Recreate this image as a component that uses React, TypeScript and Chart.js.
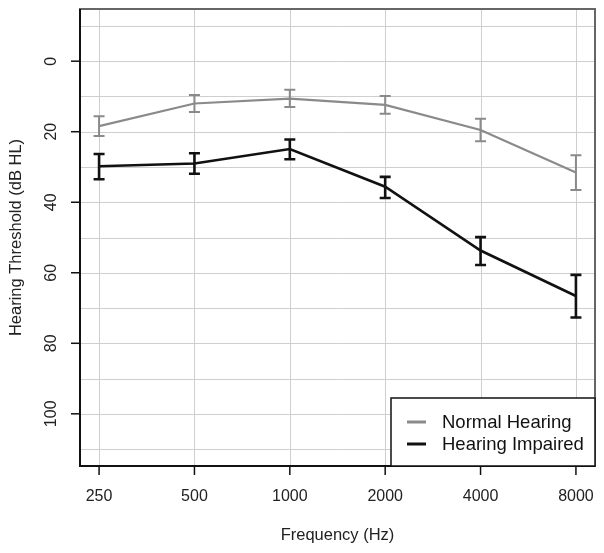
import React, { useEffect, useRef } from "react";
import { Chart, registerables } from "chart.js";

Chart.register(...registerables);

const frequencies = ["250", "500", "1000", "2000", "4000", "8000"];
const normalMean = [18.4, 12.0, 10.6, 12.4, 19.5, 31.6];
const normalLow = [15.6, 9.6, 8.1, 9.9, 16.3, 26.7];
const normalHigh = [21.2, 14.4, 13.0, 14.9, 22.7, 36.5];
const impairedMean = [29.8, 29.0, 24.9, 35.6, 53.7, 66.6];
const impairedLow = [26.3, 26.1, 22.2, 32.8, 49.9, 60.6];
const impairedHigh = [33.5, 31.9, 27.8, 38.8, 57.8, 72.7];
const yTickValues = [0, 20, 40, 60, 80, 100];
const yGridValues = [-10, 0, 10, 20, 30, 40, 50, 60, 70, 80, 90, 100, 110];
const seriesNames = ["Normal Hearing", "Hearing Impaired"];
const seriesColors = ["#8a8a8a", "#111111"];
const xTitle = "Frequency (Hz)";
const yTitle = "Hearing Threshold (dB HL)";

const FONT = '"Liberation Sans", Arial, sans-serif';

const decorPlugin = {
  id: "decor",
  beforeDatasetsDraw(chart: any) {
    const { ctx, chartArea: a, scales } = chart;
    const xs = scales.x;
    const ys = scales.y;
    ctx.save();
    ctx.strokeStyle = "#cfcfcf";
    ctx.lineWidth = 1;
    yGridValues.forEach((v) => {
      const y = Math.round(ys.getPixelForValue(v)) + 0.5;
      ctx.beginPath();
      ctx.moveTo(a.left, y);
      ctx.lineTo(a.right, y);
      ctx.stroke();
    });
    frequencies.forEach((_, i) => {
      const x = Math.round(xs.getPixelForValue(i + 1)) + 0.5;
      ctx.beginPath();
      ctx.moveTo(x, a.top);
      ctx.lineTo(x, a.bottom);
      ctx.stroke();
    });
    ctx.restore();
  },
  afterDatasetsDraw(chart: any) {
    const { ctx, chartArea: a, scales } = chart;
    const xs = scales.x;
    const ys = scales.y;
    ctx.save();
    // error bars
    const bars = [
      { lo: normalLow, hi: normalHigh, color: seriesColors[0], w: 2 },
      { lo: impairedLow, hi: impairedHigh, color: seriesColors[1], w: 2.6 },
    ];
    bars.forEach((b) => {
      ctx.strokeStyle = b.color;
      ctx.lineWidth = b.w;
      b.lo.forEach((lo, i) => {
        const x = xs.getPixelForValue(i + 1);
        const y1 = ys.getPixelForValue(lo);
        const y2 = ys.getPixelForValue(b.hi[i]);
        ctx.beginPath();
        ctx.moveTo(x, y1);
        ctx.lineTo(x, y2);
        ctx.moveTo(x - 5.5, y1);
        ctx.lineTo(x + 5.5, y1);
        ctx.moveTo(x - 5.5, y2);
        ctx.lineTo(x + 5.5, y2);
        ctx.stroke();
      });
    });

    // box
    ctx.strokeStyle = "#666666";
    ctx.lineWidth = 2;
    ctx.strokeRect(a.left, a.top, a.right - a.left, a.bottom - a.top);
    ctx.strokeStyle = "#111111";
    ctx.beginPath();
    ctx.moveTo(a.left, a.top);
    ctx.lineTo(a.left, a.bottom);
    ctx.lineTo(a.right, a.bottom);
    ctx.stroke();

    // ticks
    ctx.lineWidth = 1.5;
    ctx.fillStyle = "#222222";
    ctx.font = `16px ${FONT}`;
    ctx.textAlign = "center";
    ctx.textBaseline = "middle";
    frequencies.forEach((lab, i) => {
      const x = xs.getPixelForValue(i + 1);
      ctx.beginPath();
      ctx.moveTo(x, a.bottom);
      ctx.lineTo(x, a.bottom + 9);
      ctx.stroke();
      ctx.fillText(lab, x, a.bottom + 31);
    });
    yTickValues.forEach((v) => {
      const y = ys.getPixelForValue(v);
      ctx.beginPath();
      ctx.moveTo(a.left - 9, y);
      ctx.lineTo(a.left, y);
      ctx.stroke();
      ctx.save();
      ctx.translate(a.left - 28, y);
      ctx.rotate(-Math.PI / 2);
      ctx.fillText(String(v), 0, 0);
      ctx.restore();
    });

    // axis titles
    ctx.font = `16.5px ${FONT}`;
    ctx.fillText(xTitle, (a.left + a.right) / 2, 535);
    ctx.save();
    ctx.translate(16, (a.top + a.bottom) / 2);
    ctx.rotate(-Math.PI / 2);
    ctx.fillText(yTitle, 0, 0);
    ctx.restore();

    // legend
    const lw = 204;
    const lh = 68;
    const lx = a.right - lw;
    const ly = a.bottom - lh;
    ctx.fillStyle = "#ffffff";
    ctx.fillRect(lx, ly, lw, lh);
    ctx.strokeStyle = "#111111";
    ctx.lineWidth = 1.5;
    ctx.strokeRect(lx, ly, lw, lh);
    ctx.font = `18.5px ${FONT}`;
    ctx.textAlign = "left";
    seriesNames.forEach((name, i) => {
      const y = ly + 24 + i * 22;
      ctx.strokeStyle = seriesColors[i];
      ctx.lineWidth = 3;
      ctx.beginPath();
      ctx.moveTo(lx + 16, y);
      ctx.lineTo(lx + 35, y);
      ctx.stroke();
      ctx.fillStyle = "#111111";
      ctx.fillText(name, lx + 51, y + 1);
    });
    ctx.restore();
  },
};

export default function App() {
  const ref = useRef<HTMLCanvasElement>(null);
  useEffect(() => {
    if (!ref.current) return;
    const mk = (arr: number[]) => arr.map((y, i) => ({ x: i + 1, y }));
    const chart = new Chart(ref.current, {
      type: "line",
      data: {
        datasets: [
          {
            label: seriesNames[0],
            data: mk(normalMean),
            borderColor: seriesColors[0],
            borderWidth: 2.2,
            pointRadius: 0,
            tension: 0,
          },
          {
            label: seriesNames[1],
            data: mk(impairedMean),
            borderColor: seriesColors[1],
            borderWidth: 2.6,
            pointRadius: 0,
            tension: 0,
          },
        ],
      },
      options: {
        responsive: false,
        animation: false,
        devicePixelRatio: 1,
        layout: { padding: { left: 0, top: 9, right: 9, bottom: 0 } },
        plugins: { legend: { display: false }, tooltip: { enabled: false } },
        scales: {
          x: {
            type: "linear",
            min: 0.8,
            max: 6.2,
            grid: { display: false },
            border: { display: false },
            ticks: { display: false },
            afterFit: (s: any) => {
              s.height = 87;
            },
          },
          y: {
            type: "linear",
            reverse: true,
            min: -14.8,
            max: 114.8,
            grid: { display: false },
            border: { display: false },
            ticks: { display: false },
            afterFit: (s: any) => {
              s.width = 80;
            },
          },
        },
      } as any,
      plugins: [decorPlugin],
    });
    return () => chart.destroy();
  }, []);
  return (
    <div style={{ position: "absolute", left: 0, top: 0, width: 604, height: 553, background: "#fff" }}>
      <canvas ref={ref} width={604} height={553} />
    </div>
  );
}
